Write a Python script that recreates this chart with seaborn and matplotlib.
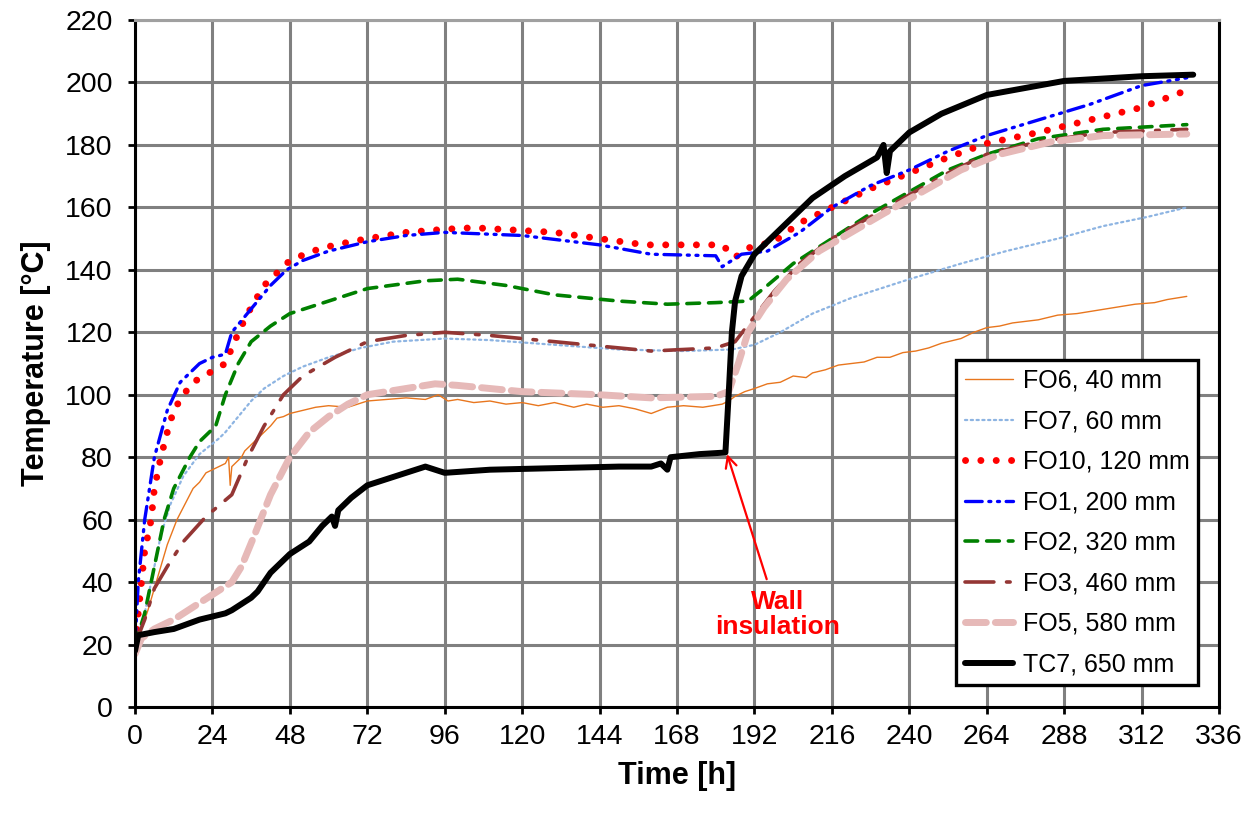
import numpy as np
import pandas as pd
import matplotlib
matplotlib.use("Agg")
import matplotlib.pyplot as plt
import seaborn as sns

# Sensor readings (time [h], temperature [°C])
fo6_t = [0, 2, 4, 6, 8, 10, 13, 16, 18, 20, 22, 24, 26, 28, 29, 29.5, 30, 31, 33, 34, 36, 38, 40, 42, 44, 46, 48, 52, 56, 60, 66, 72, 78, 84, 90, 94, 97, 100, 105, 110, 115, 120, 125, 130, 136, 140, 145, 150, 155, 160, 165, 170, 176, 182, 184, 186, 189, 192, 196, 200, 204, 208, 210, 214, 218, 222, 226, 230, 234, 238, 242, 246, 250, 256, 260, 264, 268, 272, 276, 280, 286, 292, 298, 304, 310, 316, 320, 326]
fo6_v = [20, 25, 31, 38, 45, 52, 60, 66, 70, 72, 75, 76, 77, 78, 80, 71, 77, 78, 80, 82, 84, 86, 88, 90, 92.5, 93, 94, 95, 96, 96.5, 96, 98, 98.5, 99, 98.5, 100, 98, 98.5, 97.5, 98, 97, 97.5, 96.5, 97.5, 96, 97, 96, 96.5, 95.5, 94, 96, 96.5, 96, 97, 98, 99.5, 101, 102, 103.5, 104, 106, 105.5, 107, 108, 109.5, 110, 110.5, 112, 112, 113.5, 114, 115, 116.5, 118, 120, 121.5, 122, 123, 123.5, 124, 125.5, 126, 127, 128, 129, 129.5, 130.5, 131.5]

fo7_t = [0, 3, 5, 8, 11, 15, 20, 26, 28, 32, 36, 40, 46, 52, 60, 70, 80, 96, 110, 130, 150, 170, 185, 192, 200, 210, 222, 240, 256, 270, 286, 300, 314, 326]
fo7_v = [20, 30, 40, 55, 65, 74, 81, 86, 88, 93, 98, 102, 106, 109, 112, 115, 117, 118, 117.5, 116, 114.5, 114, 114.5, 116, 120, 126, 131, 137, 142, 146, 150, 154, 157, 160]

fo10_t = [0, 1, 2, 3, 5, 6, 8, 10, 12, 15, 18, 23, 28, 30, 33, 36, 40, 45, 48, 55, 62, 72, 84, 96, 105, 130, 144, 158, 175, 182, 186, 190, 198, 206, 216, 228, 240, 252, 264, 280, 296, 312, 326]
fo10_v = [20, 30, 40, 50, 60, 70, 80, 88, 95, 100, 104, 107, 110, 115, 122, 128, 135, 140, 143, 146, 148, 150, 152, 153, 153.5, 152, 150, 148, 148, 148, 144, 147, 149, 155, 160, 166, 171, 176, 180.5, 184, 188, 192, 197.5]

fo1_t = [0, 1, 3, 6, 10, 14, 17, 20, 24, 28, 30, 34, 38, 42, 47, 52, 60, 72, 84, 96, 120, 144, 160, 180, 182, 188, 196, 206, 216, 228, 240, 252, 264, 280, 296, 312, 326]
fo1_v = [20, 40, 60, 80, 95, 104, 107, 110, 112, 113, 120, 125, 130, 135, 140, 143, 146, 149, 151, 152, 151, 148, 145, 144.5, 141, 145, 146, 152, 160, 167, 172, 178, 183, 188, 193, 199, 201.5]

fo2_t = [0, 3, 6, 9, 12, 17, 20, 25, 28, 32, 36, 42, 48, 60, 72, 90, 100, 115, 130, 150, 165, 180, 190, 196, 204, 216, 228, 240, 252, 264, 280, 300, 326]
fo2_v = [20, 30, 45, 60, 70, 80, 85, 90, 100, 110, 117, 122, 126, 130, 134, 136.5, 137, 135, 132, 130, 129, 129.5, 130, 135, 142, 150, 158, 165, 172, 177, 182, 185, 186.5]

fo3_t = [0, 3, 6, 10, 15, 22, 30, 35, 40, 46, 52, 62, 72, 84, 96, 110, 130, 150, 160, 180, 186, 192, 198, 206, 216, 228, 240, 252, 264, 280, 300, 326]
fo3_v = [20, 28, 38, 45, 53, 61, 68, 80, 90, 100, 106, 112, 117, 119, 120, 119, 117, 115, 114, 115, 117, 125, 133, 142, 150, 157, 164, 171, 177, 181, 184, 185]

fo5_t = [0, 2, 6, 12, 18, 24, 30, 33, 37, 42, 48, 54, 60, 66, 72, 84, 93, 100, 120, 144, 160, 180, 184, 187, 190, 195, 202, 212, 222, 232, 244, 256, 268, 284, 300, 326]
fo5_v = [17, 22, 25, 28, 32, 36, 40, 45, 55, 68, 80, 88, 93, 97, 100, 102, 103.5, 103, 101, 100, 99, 99.5, 101, 110, 120, 128, 137, 146, 152, 158, 165, 172, 177, 181, 183, 183.5]

tc7_t = [0, 1, 6, 12, 20, 28, 30, 36, 38, 42, 48, 54, 58, 61, 62, 63, 67, 72, 78, 84, 90, 93, 96, 110, 130, 150, 160, 163, 165, 166, 175, 183, 184, 185, 186, 188, 192, 200, 210, 220, 230, 232, 233, 234, 240, 250, 264, 288, 312, 328]
tc7_v = [18, 23, 24, 25, 28, 30, 31, 35, 37, 43, 49, 53, 58, 61, 58, 63, 67, 71, 73, 75, 77, 76, 75, 76, 76.5, 77, 77, 78, 76, 80, 81, 81.5, 100, 120, 130, 138, 145, 153, 163, 170, 176, 180, 171, 178, 184, 190, 196, 200.5, 202, 202.5]

labels = ["FO6, 40 mm", "FO7, 60 mm", "FO10, 120 mm", "FO1, 200 mm",
          "FO2, 320 mm", "FO3, 460 mm", "FO5, 580 mm", "TC7, 650 mm"]
times = [fo6_t, fo7_t, fo10_t, fo1_t, fo2_t, fo3_t, fo5_t, tc7_t]
temps = [fo6_v, fo7_v, fo10_v, fo1_v, fo2_v, fo3_v, fo5_v, tc7_v]

colors = ["#E8761E", "#8DB4E2", "#FF0000", "#0000FF", "#008000", "#943634", "#E6B9B8", "#000000"]
widths = [1.0, 1.6, 5.0, 2.4, 2.6, 2.6, 5.0, 4.3]
styles = ["-", (0, (1, 1.6)), (0, (0.01, 2.2)), (0, (5, 2, 0.6, 2, 0.6, 2)),
          (0, (3.5, 2.5)), (0, (8, 3.5, 1, 3.5)), (0, (3, 1.3)), "-"]

sns.set_style("white")
plt.rcParams["font.family"] = ["Liberation Sans", "DejaVu Sans"]
plt.rcParams["text.color"] = "black"
plt.rcParams["axes.labelcolor"] = "black"

fig = plt.figure(figsize=(12.41, 8.14), dpi=100)
ax = fig.add_axes([0.1088, 0.1314, 0.8735, 0.844])

for lab, t, v, c, w, s in zip(labels, times, temps, colors, widths, styles):
    df = pd.DataFrame({"Time": t, "Temp": v})
    sns.lineplot(data=df, x="Time", y="Temp", ax=ax, color=c, linewidth=w,
                 linestyle=s, label=lab, sort=False, estimator=None)

for line in ax.get_lines():
    line.set_dash_capstyle("round")

ax.set_xlim(0, 336)
ax.set_ylim(0, 220)
ax.set_xticks(np.arange(0, 337, 24))
ax.set_yticks(np.arange(0, 221, 20))
ax.grid(True, color="#808080", linewidth=2.2)
ax.set_axisbelow(True)
ax.spines["top"].set_color("#A0A0A0")
ax.spines["top"].set_linewidth(2.2)
for side in ["left", "bottom", "right"]:
    ax.spines[side].set_color("black")
    ax.spines[side].set_linewidth(2.2)
ax.tick_params(axis="both", which="major", labelsize=20.5, direction="out",
               length=5, width=2, color="black", labelcolor="black",
               bottom=True, left=True)
ax.tick_params(axis="x", pad=7)
ax.tick_params(axis="y", pad=11)
ax.set_xlabel("Time [h]", fontsize=22, fontweight="bold", labelpad=8)
ax.set_ylabel("Temperature [°C]", fontsize=22, fontweight="bold", labelpad=10)

ax.annotate("Wall\ninsulation", xy=(183.5, 81), xytext=(199.3, 29.5),
            ha="center", va="center", color="#FF0000", fontsize=19, fontweight="bold",
            linespacing=1.05,
            arrowprops=dict(arrowstyle="->", color="#FF0000", lw=1.6,
                            shrinkA=6, shrinkB=0, mutation_scale=20))

leg = ax.legend(loc="lower right", bbox_to_anchor=(0.9806, 0.032), fontsize=18,
                frameon=True, fancybox=False, edgecolor="black",
                handlelength=1.9, handletextpad=0.4, labelspacing=0.66,
                borderpad=0.35, borderaxespad=0)
leg.get_frame().set_linewidth(2.4)
leg.get_frame().set_alpha(1)

fig.savefig("out.png", dpi=100)
